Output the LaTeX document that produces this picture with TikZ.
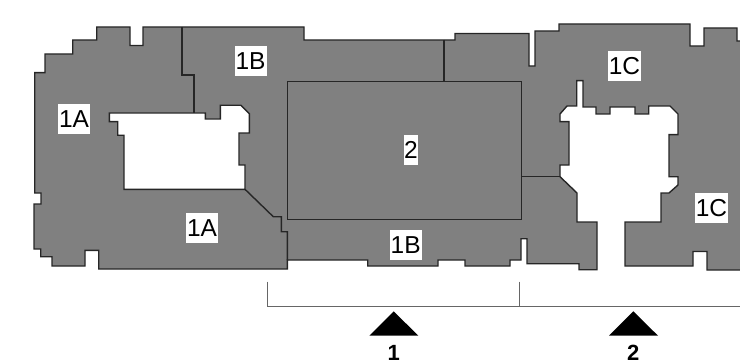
\documentclass[tikz,border=0pt]{standalone}
\usepackage{fontspec}
\setmainfont{Liberation Sans}
\begin{document}
\begin{tikzpicture}[
    x=1pt, y=-1pt,
    plan/.style={draw=black!85, line width=1.4pt, line join=miter},
    wing/.style={fill=white, inner sep=0pt, minimum height=30pt, minimum width=32pt, font=\fontsize{24.5}{24.5}\selectfont},
    entry/.style={fill=black, draw=none},
    entrylabel/.style={inner sep=0pt, anchor=base, font=\fontsize{22}{22}\selectfont\bfseries}
]
    \clip (0,0) rectangle (740,361);
    % Outer outline of the floor
    \draw[plan, fill=black!50] (96.7,27) -- (130,27) -- (130,45.5) -- (143,45.5) -- (143,27) -- (304,27) -- (304,40) -- (455,40) -- (455,33.5)
        -- (529,33.5) -- (529,66) -- (535,66) -- (535,31) -- (559,31) -- (559,24) -- (690,24) -- (690,46) -- (704,46) -- (704,28)
        -- (737,28) -- (737,41) -- (750,41) -- (750,270) -- (707,270) -- (707,251.5) -- (693,251.5) -- (693,266) -- (625,266)
        -- (625,222) -- (661,222) -- (661,193) -- (669,193) -- (678,185) -- (678,176.7) -- (669,176.7) -- (669,134.7) -- (678,134.7)
        -- (678,114) -- (670,106) -- (648.7,106) -- (648.7,114) -- (635,114) -- (635,107) -- (610,107) -- (610,114) -- (596,114)
        -- (596,107) -- (583,107) -- (583,80.7) -- (576.7,80.7) -- (576.7,106) -- (567,106) -- (560,114) -- (560,121.7) -- (569,121.7)
        -- (569,165) -- (560,165) -- (560,176.7) -- (577,193) -- (577,222) -- (597,222) -- (597,269.7) -- (579,269.7) -- (579,263.7)
        -- (527,263.7) -- (527,238.7) -- (521,238.7) -- (521,260) -- (510,260) -- (510,266) -- (465,266) -- (465,260) -- (438,260)
        -- (438,266) -- (367.7,266) -- (367.7,260) -- (287.3,260) -- (287.3,269) -- (98.7,269) -- (98.7,250.3) -- (85,250.3) -- (85,266)
        -- (52,266) -- (52,256.7) -- (40.7,256.7) -- (40.7,249) -- (34,249) -- (34,204) -- (41,204) -- (41,193) -- (34.7,193)
        -- (34.7,72.7) -- (45,72.7) -- (45,54) -- (72.7,54) -- (72.7,40) -- (96.7,40) -- cycle;
    % Inner court
    \draw[plan, fill=white] (109.3,113) -- (205.3,113) -- (205.3,119) -- (220.3,119) -- (220.3,105.3) -- (241,105.3) -- (249.3,113.7)
        -- (249.3,133) -- (239,133) -- (239,165) -- (245,165) -- (245,189.3) -- (124,189.3) -- (124,135.3) -- (117.7,135.3)
        -- (117.7,121.7) -- (109.3,121.7) -- cycle;
    % Dividing walls
    \draw[plan] (182,27) -- (182,75) -- (194,75) -- (194,113);
    \draw[plan] (245,189.3) -- (273.3,216.7) -- (281.3,216.7) -- (281.3,231.7) -- (287.3,231.7) -- (287.3,260);
    \draw[plan] (444,40) -- (444,81.7);
    \draw[plan] (521.7,176.7) -- (560,176.7);
    \draw[plan] (287.7,81.7) rectangle (521.7,219.3);

    \node[wing] (wingAtop) at (74,119) {1A};
    \node[wing] (wingAbot) at (202,228) {1A};
    \node[wing] (wingBtop) at (250.5,61) {1B};
    \node[wing] (wingBbot) at (405.7,245) {1B};
    \node[wing, minimum width=14pt] (core) at (411,150) {2};
    \node[wing, minimum width=33pt] (wingCtop) at (624.5,66) {1C};
    \node[wing, minimum width=33pt] (wingCbot) at (711.5,208) {1C};

    % Entrances
    \draw[black!60, line width=0.9pt] (267.7,281.7) -- (267.7,306.7) -- (750,306.7);
    \draw[black!60, line width=0.9pt] (519.3,281.7) -- (519.3,306.7);
    \fill[entry] (393.7,311.3) -- (418.3,335.7) -- (369.3,335.7) -- cycle;
    \fill[entry] (633.3,311.3) -- (658,335.7) -- (609,335.7) -- cycle;
    \node[entrylabel] (entryone) at (393.7,360.6) {1};
    \node[entrylabel] (entrytwo) at (633.3,360.6) {2};
\end{tikzpicture}
\end{document}
